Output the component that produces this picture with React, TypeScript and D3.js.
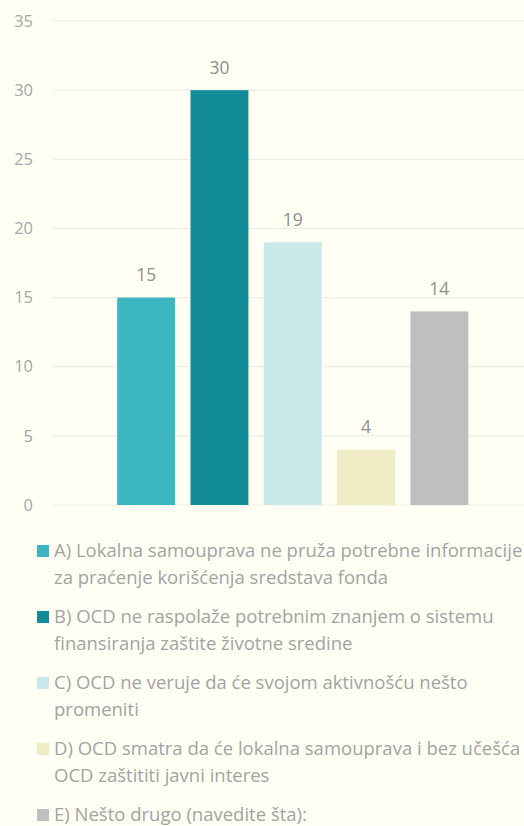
import React from "react";
import * as d3 from "d3";

const categories = ["A", "B", "C", "D", "E"];
const values = [15, 30, 19, 4, 14];
const colors = ["#3BB6C1", "#128C98", "#C8E8EA", "#F0EDC6", "#BFBFBF"];
const yTicks = [0, 5, 10, 15, 20, 25, 30, 35];
const legendLines = [
  ["A) Lokalna samouprava ne pruža potrebne informacije", "za praćenje korišćenja sredstava fonda"],
  ["B) OCD ne raspolaže potrebnim znanjem o sistemu", "finansiranja zaštite životne sredine"],
  ["C) OCD ne veruje da će svojom aktivnošću nešto", "promeniti"],
  ["D) OCD smatra da će lokalna samouprava i bez učešća", "OCD zaštititi javni interes"],
  ["E) Nešto drugo (navedite šta):"],
];

const W = 524;
const H = 826;
const FONT = "'Open Sans', sans-serif";

export default function App() {
  const x = d3.scaleBand<string>().domain(categories).range([109.5, 476]).paddingInner(0.21).paddingOuter(0.105);
  const y = d3.scaleLinear().domain([0, 35]).range([505, 21]);
  const gridX0 = 53;
  const legendY0 = 551;
  const itemGap = 66;
  const lineGap = 27;

  return (
    <svg width={W} height={H} style={{ position: "absolute", left: 0, top: 0, background: "#FFFFF4" }}>
      <rect x={0} y={0} width={W} height={H} fill="#FFFFF4" />
      {yTicks.map((t) => (
        <g key={t}>
          <line x1={gridX0} x2={W} y1={y(t)} y2={y(t)} stroke="#EDEDE6" strokeWidth={1.2} />
          <text x={33} y={y(t)} dy="0.35em" textAnchor="end" fontFamily={FONT} fontSize={16.5} fill="#A6A6A6">
            {t}
          </text>
        </g>
      ))}
      {categories.map((c, i) => (
        <g key={c}>
          <rect x={x(c)} y={y(values[i])} width={x.bandwidth()} height={y(0) - y(values[i])} fill={colors[i]} />
          <text
            x={(x(c) as number) + x.bandwidth() / 2}
            y={y(values[i]) - 22.5}
            dy="0.35em"
            textAnchor="middle"
            fontFamily={FONT}
            fontSize={17.5}
            fill="#8E8E8E"
          >
            {values[i]}
          </text>
        </g>
      ))}
      {legendLines.map((lines, i) => {
        const cy = legendY0 + i * itemGap;
        return (
          <g key={i}>
            <rect x={37} y={cy - 6} width={12} height={12} fill={colors[i]} />
            {lines.map((l, j) => (
              <text
                key={j}
                x={54}
                y={cy + j * lineGap}
                dy="0.35em"
                fontFamily={FONT}
                fontSize={18.5}
                fill="#A3A3A3"
              >
                {l}
              </text>
            ))}
          </g>
        );
      })}
    </svg>
  );
}
